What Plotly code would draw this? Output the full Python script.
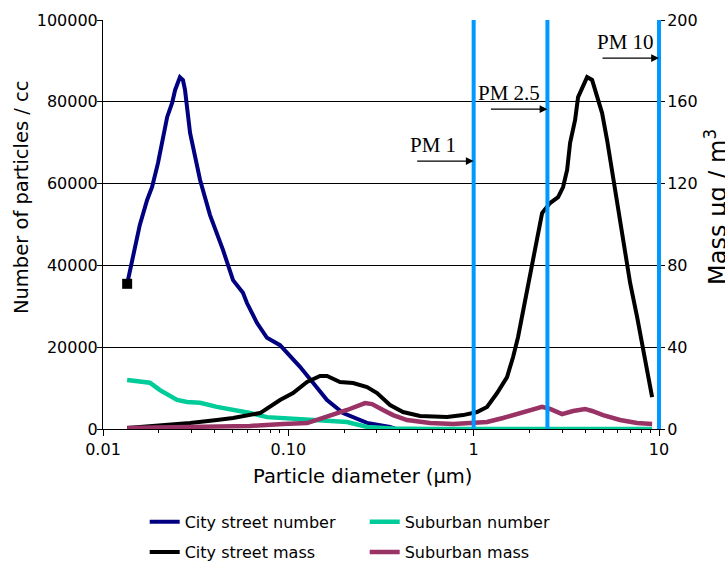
import math
import plotly.graph_objects as go

# Particle diameter (µm) and concentrations for each series
city_num_d = [0.0135, 0.0145, 0.0158, 0.0173, 0.0184, 0.0198, 0.0211, 0.0222, 0.0236, 0.0245,
              0.0260, 0.0270, 0.0277, 0.0284, 0.0295, 0.0334, 0.0378, 0.0444, 0.0503, 0.0569,
              0.0598, 0.0678, 0.0767, 0.0902, 0.1156, 0.1359, 0.1617, 0.1973, 0.2659, 0.3538, 0.3765]
city_num = [35500, 42500, 49900, 56000, 59200, 65000, 70700, 76300, 79700, 82900,
            86000, 85300, 82900, 78000, 72400, 60900, 52300, 43800, 36400, 33300,
            30800, 25900, 22300, 20500, 15200, 11300, 7100, 3900, 1500, 500, 100]

sub_num_d = [0.0135, 0.0179, 0.0203, 0.0251, 0.0284, 0.0334, 0.0412, 0.0503, 0.0621, 0.0767,
             0.0936, 0.1359, 0.2074, 0.2659, 0.3673, 0.5817, 1.0, 2.0, 4.0, 9.18]
sub_num = [12000, 11300, 9500, 7100, 6600, 6400, 5400, 4700, 3900, 2900,
           2700, 2200, 1700, 500, 100, 0, 0, 0, 0, 0]

city_mass_d = [0.0135, 0.0203, 0.0295, 0.0412, 0.0503, 0.0704, 0.0902, 0.106, 0.1262, 0.1483,
               0.1618, 0.1901, 0.2235, 0.2659, 0.3011, 0.3539, 0.4159, 0.5138, 0.7188, 0.8766,
               1.043, 1.181, 1.338, 1.514, 1.632, 1.736, 1.848, 2.015, 2.145, 2.227,
               2.34, 2.584, 2.855, 3.037, 3.193, 3.314, 3.526, 3.66, 3.846, 4.093,
               4.355, 4.634, 4.931, 5.247, 5.583, 5.94, 6.402, 6.986, 7.616, 8.21, 9.18]
city_mass = [0.5, 1.5, 2.9, 4.4, 5.4, 7.8, 14.2, 17.6, 23.0, 25.9,
             25.9, 23.0, 22.5, 20.5, 17.6, 11.7, 8.3, 6.4, 5.9, 6.8,
             8.3, 10.8, 17.6, 25.4, 35.2, 45.0, 58.2, 74.3, 87.5, 97.3,
             105.6, 110.5, 113.4, 118.3, 126.7, 139.9, 151.1, 162.3, 167.2, 172.1,
             170.7, 162.3, 154.5, 141.3, 126.7, 112.0, 93.9, 71.4, 54.8, 38.6, 15.6]

sub_mass_d = [0.0135, 0.0334, 0.0621, 0.0936, 0.1262, 0.1539, 0.1742, 0.2074, 0.2594, 0.2829,
              0.3243, 0.3673, 0.4371, 0.5817, 0.7741, 0.9927, 1.181, 1.441, 1.78, 2.092,
              2.34, 2.584, 3.0, 3.44, 3.993, 4.355, 4.993, 6.166, 7.616, 9.18]
sub_mass = [0.5, 1.0, 1.5, 2.4, 2.9, 5.4, 6.8, 9.3, 12.7, 12.2,
            9.3, 6.8, 4.4, 2.9, 2.4, 2.9, 3.4, 5.4, 7.8, 9.8,
            10.8, 9.8, 7.3, 8.8, 9.8, 8.8, 6.8, 4.4, 2.9, 2.4]

# PM size cut-offs (µm) and their labels
pm_sizes = [1, 2.5, 10]
pm_labels = ["PM 1", "PM 2.5", "PM 10"]

x_tickvals = [0.01, 0.1, 1, 10]
x_ticktext = ["0.01", "0.10", "1", "10"]
x_minor = [m * 10 ** e for e in (-2, -1, 0) for m in range(2, 10)]
x_log_range = [-2, 1]

SANS = "DejaVu Sans"
SERIF = "Liberation Serif"


def x_to_paper(v):
    """Position of a diameter along the log x axis, as a fraction of the plot width."""
    return (math.log10(v) - x_log_range[0]) / (x_log_range[1] - x_log_range[0])


fig = go.Figure()

fig.add_trace(go.Scatter(x=city_num_d, y=city_num, mode="lines", name="City street number",
                         line=dict(color="#000080", width=4), legend="legend"))
fig.add_trace(go.Scatter(x=city_num_d[:1], y=city_num[:1], mode="markers", showlegend=False,
                         marker=dict(symbol="square", size=10, color="black")))
fig.add_trace(go.Scatter(x=sub_num_d, y=sub_num, mode="lines", name="Suburban number",
                         line=dict(color="#00CC99", width=4.5), legend="legend"))
fig.add_trace(go.Scatter(x=city_mass_d, y=city_mass, mode="lines", name="City street mass",
                         line=dict(color="black", width=4), yaxis="y2", legend="legend2"))
fig.add_trace(go.Scatter(x=sub_mass_d, y=sub_mass, mode="lines", name="Suburban mass",
                         line=dict(color="#993366", width=4.5), yaxis="y2", legend="legend2"))

# PM cut-off lines (paper-referenced so the one on the axis edge is not clipped)
for v in pm_sizes:
    xp = x_to_paper(v)
    fig.add_shape(type="line", xref="paper", yref="paper", x0=xp, x1=xp, y0=0, y1=1,
                  line=dict(color="#0099FF", width=4), layer="above")

# Arrows and labels pointing at the cut-off lines
arrow_y = [0.655, 0.782, 0.907]
label_y = [0.694, 0.822, 0.945]
label_dx = [-41, -38, -34]
for v, lab, ay, ly, dx in zip(pm_sizes, pm_labels, arrow_y, label_y, label_dx):
    fig.add_annotation(x=math.log10(v), y=ay, xref="x", yref="paper", text="",
                       showarrow=True, ax=-58, ay=0, axref="pixel", ayref="pixel",
                       arrowhead=2, arrowsize=1.3, arrowwidth=1.2, arrowcolor="black")
    fig.add_annotation(x=math.log10(v), y=ly, xref="x", yref="paper", text=lab,
                       showarrow=False, xanchor="center", yanchor="middle", xshift=dx,
                       font=dict(family=SERIF, size=21, color="black"))

# Axis titles
fig.add_annotation(x=-0.1475, y=0.567, xref="paper", yref="paper",
                   xanchor="center", yanchor="middle",
                   text="Number of particles / cc", textangle=-90, showarrow=False,
                   font=dict(family=SANS, size=19.5, color="black"))
fig.add_annotation(x=1.1025, y=0.543, xref="paper", yref="paper",
                   xanchor="center", yanchor="middle",
                   text="Mass µg / m<sup>3</sup>", textangle=-90, showarrow=False,
                   font=dict(family=SANS, size=24, color="black"))
fig.add_annotation(x=0.466, y=-0.115, xref="paper", yref="paper",
                   xanchor="center", yanchor="middle",
                   text="Particle diameter (µm)", showarrow=False,
                   font=dict(family=SANS, size=19.5, color="black"))

tickfont = dict(family=SANS, size=16, color="black")

fig.update_layout(
    width=725, height=561,
    margin=dict(l=103, r=66, t=20, b=132, autoexpand=False),
    paper_bgcolor="white", plot_bgcolor="white",
    xaxis=dict(type="log", range=x_log_range, tickvals=x_tickvals, ticktext=x_ticktext,
               ticks="outside", ticklen=6, tickcolor="black", tickfont=tickfont,
               showline=True, linecolor="black", linewidth=1, showgrid=False, zeroline=False,
               minor=dict(tickvals=x_minor, ticks="outside", ticklen=3, tickcolor="black",
                          showgrid=False)),
    yaxis=dict(range=[0, 100000], dtick=20000, tickformat="d", ticks="outside", ticklen=5,
               tickcolor="black", tickfont=tickfont, showline=True, linecolor="black",
               linewidth=1, showgrid=True, gridcolor="black", gridwidth=1, zeroline=False,
               ticklabelstandoff=-4),
    yaxis2=dict(range=[0, 200], dtick=40, overlaying="y", side="right", ticks="outside",
                ticklen=5, tickcolor="black", tickfont=tickfont, showline=True,
                linecolor="black", showgrid=False, zeroline=False, ticklabelstandoff=-1),
    legend=dict(orientation="h", x=0.075, y=-0.227, xanchor="left", yanchor="middle",
                entrywidth=175, font=dict(family=SANS, size=16, color="black"),
                itemwidth=30, bgcolor="rgba(0,0,0,0)"),
    legend2=dict(orientation="h", x=0.075, y=-0.301, xanchor="left", yanchor="middle",
                 entrywidth=175, font=dict(family=SANS, size=16, color="black"),
                 itemwidth=30, bgcolor="rgba(0,0,0,0)"),
)

fig.write_html("out.html")
